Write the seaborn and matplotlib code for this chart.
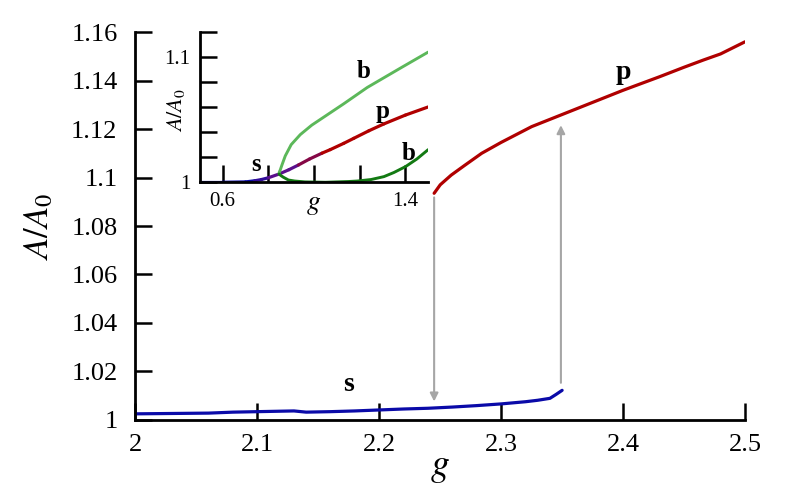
import numpy as np
import pandas as pd
import matplotlib
matplotlib.use("Agg")
import matplotlib.pyplot as plt
import seaborn as sns
from matplotlib.collections import LineCollection

# main panel data
s_g = [2.00, 2.02, 2.04, 2.06, 2.08, 2.10, 2.12, 2.13, 2.14, 2.16, 2.18, 2.20,
       2.22, 2.24, 2.26, 2.28, 2.30, 2.32, 2.33, 2.34, 2.345, 2.35]
s_a = [1.0025, 1.0026, 1.0027, 1.0028, 1.0032, 1.0034, 1.0036, 1.0037, 1.0032,
       1.0034, 1.0037, 1.0041, 1.0045, 1.0048, 1.0053, 1.0059, 1.0066, 1.0075,
       1.0081, 1.0089, 1.0105, 1.0122]

p_g = [2.245, 2.25, 2.259, 2.27, 2.284, 2.30, 2.325, 2.35, 2.375, 2.40, 2.43,
       2.45, 2.466, 2.48, 2.50]
p_a = [1.0935, 1.097, 1.101, 1.105, 1.110, 1.1145, 1.121, 1.126, 1.131, 1.136,
       1.1416, 1.1455, 1.1485, 1.151, 1.156]

# hysteresis jumps (g, from, to)
jump_down = (2.245, 1.0918, 1.0076)
jump_up = (2.349, 1.0153, 1.1216)

# inset data: s -> p branch
br_g = [0.5, 0.6, 0.7, 0.74, 0.77, 0.80, 0.847, 0.89, 0.932, 0.98, 1.035,
        1.071, 1.13, 1.174, 1.24, 1.306, 1.4, 1.5]
br_a = [1.0, 1.0, 1.0003, 1.0012, 1.0022, 1.0036, 1.0066, 1.010, 1.0138, 1.0185,
        1.0232, 1.026, 1.031, 1.035, 1.041, 1.0465, 1.0535, 1.060]

# upper b branch
bu_g = [0.847, 0.848, 0.852, 0.859, 0.874, 0.90, 0.94, 0.99, 1.06, 1.13, 1.233,
        1.379, 1.5]
bu_a = [1.0066, 1.0082, 1.0098, 1.0135, 1.021, 1.030, 1.038, 1.0455, 1.054,
        1.0625, 1.0755, 1.091, 1.1037]

# lower b branch
bl_g = [0.847, 0.856, 0.866, 0.888, 0.915, 0.96, 1.05, 1.15, 1.19, 1.25, 1.306,
        1.35, 1.401, 1.45, 1.5]
bl_a = [1.0066, 1.0052, 1.004, 1.0018, 1.001, 1.0003, 1.0, 1.0006, 1.001, 1.0022,
        1.0045, 1.0078, 1.0125, 1.0185, 1.026]

blue = "#0a0aa8"
red = "#b00000"
purple = "#5a0f8c"
light_green = "#5cb85a"
dark_green = "#137a13"
gray = "#a6a6a6"

sns.set_style("ticks", {"axes.edgecolor": "black", "xtick.color": "black",
                        "ytick.color": "black", "text.color": "black",
                        "axes.labelcolor": "black"})
plt.rcParams['font.family'] = ['Liberation Serif', 'DejaVu Serif']
plt.rcParams['mathtext.fontset'] = 'stix'

fig = plt.figure(figsize=(7.9, 4.94), dpi=100)
ax = fig.add_axes([0.1715, 0.150, 0.7715, 0.785])

sns.lineplot(x=s_g, y=s_a, ax=ax, color=blue, lw=2.3)
sns.lineplot(x=p_g, y=p_a, ax=ax, color=red, lw=2.3)

for g, a0, a1 in [jump_down, jump_up]:
    ax.annotate("", xy=(g, a1), xytext=(g, a0),
                arrowprops=dict(arrowstyle="-|>", color=gray, lw=1.5,
                                mutation_scale=12, shrinkA=0, shrinkB=0))

ax.set_xlim(2, 2.5)
ax.set_ylim(1, 1.16)
ax.set_xticks([2, 2.1, 2.2, 2.3, 2.4, 2.5])
ax.set_xticklabels(["2", "2.1", "2.2", "2.3", "2.4", "2.5"])
ax.set_yticks([1, 1.02, 1.04, 1.06, 1.08, 1.1, 1.12, 1.14, 1.16])
ax.set_yticklabels(["1", "1.02", "1.04", "1.06", "1.08", "1.1", "1.12", "1.14", "1.16"])
ax.tick_params(direction='in', length=12, width=1.8, labelsize=19, pad=10)
ax.tick_params(axis='y', pad=13)
sns.despine(ax=ax)
for sp in ["left", "bottom"]:
    ax.spines[sp].set_linewidth(2)
ax.set_xlabel("$g$", fontsize=27, labelpad=-4)
ax.set_ylabel("$A/A_0$", fontsize=25)
ax.yaxis.set_label_coords(-0.13, 0.5)

ax.text(2.1746, 1.0144, "s", fontsize=20, fontweight='bold', ha='center', va='center')
ax.text(2.40, 1.1435, "p", fontsize=20, fontweight='bold', ha='center', va='center')

# inset
ins = fig.add_axes([0.253, 0.631, 0.289, 0.305])
ins.patch.set_alpha(0)
pts = np.column_stack([br_g, br_a])
segs = np.stack([pts[:-1], pts[1:]], axis=1)
blue_purple = sns.blend_palette([blue, purple], 3)[1]
purple_red = sns.blend_palette([purple, red], 3)[1]
seg_col = []
for g0 in br_g[:-1]:
    if g0 < 0.74:
        seg_col.append(blue)
    elif g0 < 0.80:
        seg_col.append(blue_purple)
    elif g0 < 0.93:
        seg_col.append(purple)
    elif g0 < 1.03:
        seg_col.append(purple_red)
    else:
        seg_col.append(red)
ins.add_collection(LineCollection(segs, colors=seg_col, linewidths=2.3, capstyle='round'))
sns.lineplot(x=bu_g, y=bu_a, ax=ins, color=light_green, lw=2.1, sort=False)
sns.lineplot(x=bl_g, y=bl_a, ax=ins, color=dark_green, lw=2.1, sort=False)

ins.set_xlim(0.5, 1.5)
ins.set_ylim(1, 1.12)
ins.set_xticks([0.6, 0.8, 1.0, 1.2, 1.4])
ins.set_xticklabels(["0.6", "", "$g$", "", "1.4"])
ins.set_yticks([1, 1.02, 1.04, 1.06, 1.08, 1.1, 1.12])
ins.set_yticklabels(["1", "", "", "", "", "1.1", ""])
ins.tick_params(direction='in', length=12, width=1.8, labelsize=15, pad=7)
ins.get_xticklabels()[2].set_fontsize(20)
sns.despine(ax=ins)
for sp in ["left", "bottom"]:
    ins.spines[sp].set_linewidth(2)
ins.set_ylabel("$A/A_0$", fontsize=16)
ins.yaxis.set_label_coords(-0.055, 0.48)

ins.text(0.746, 1.0138, "s", fontsize=18, fontweight='bold', ha='center', va='center')
ins.text(1.218, 1.0885, "b", fontsize=18, fontweight='bold', ha='center', va='center')
ins.text(1.299, 1.0565, "p", fontsize=18, fontweight='bold', ha='center', va='center')
ins.text(1.416, 1.0232, "b", fontsize=18, fontweight='bold', ha='center', va='center')

fig.savefig("out.png", dpi=100)
